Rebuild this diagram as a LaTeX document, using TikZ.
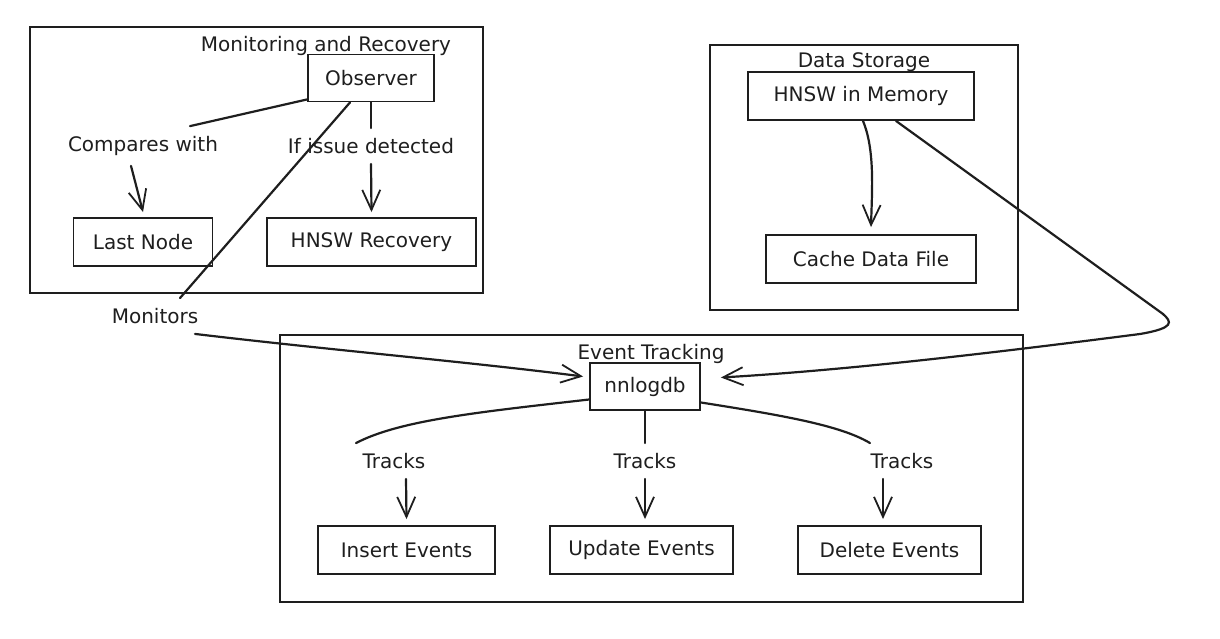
\documentclass[tikz,border=0pt]{standalone}
\usepackage{fontspec}
\setmainfont{DejaVu Sans}
\usetikzlibrary{arrows.meta,positioning,calc}
\definecolor{Ink}{HTML}{1E1E1E}
\tikzset{
  box/.style={draw=Ink,line width=1.9pt,minimum height=48pt,inner sep=0pt,
    font=\fontsize{20}{24}\selectfont,text=Ink},
  cluster/.style={draw=Ink,line width=1.9pt},
  ttl/.style={inner sep=1pt,font=\fontsize{20}{24}\selectfont,text=Ink},
  lbl/.style={inner sep=10pt,font=\fontsize{20}{24}\selectfont,text=Ink},
  link/.style={draw=Ink,line width=2.2pt,line cap=round},
}
\begin{document}
\begin{tikzpicture}[x=1pt,y=-1pt,>={Straight Barb[length=20pt,width=18pt,line width=1.8pt]}]
\useasboundingbox (0,0) rectangle (1220,639);
% clusters
\draw[cluster] (30,27) rectangle (483,293);
\draw[cluster] (710,45) rectangle (1018,310);
\draw[cluster] (280,335) rectangle (1023,602);
\node[ttl] (tmon) at (326,46) {Monitoring and Recovery};
\node[ttl] (tdat) at (864,62) {Data Storage};
\node[ttl] (tevt) at (651,354) {Event Tracking};
% boxes
\node[box,minimum width=126pt,minimum height=47pt] (obs) at (371,78) {Observer};
\node[box,minimum width=139pt] (last) at (143,242) {Last Node};
\node[box,minimum width=209pt] (rec) at (371.5,242) {HNSW Recovery};
\node[box,minimum width=226pt] (mem) at (861,96) {HNSW in Memory};
\node[box,minimum width=210pt] (cache) at (871,259) {Cache Data File};
\node[box,minimum width=110pt,minimum height=47pt] (nnl) at (645,386.5) {nnlogdb};
\node[box,minimum width=177pt] (ins) at (406.5,550) {Insert Events};
\node[box,minimum width=183pt] (upd) at (641.5,550) {Update Events};
\node[box,minimum width=183pt] (del) at (889.5,550) {Delete Events};
% edge labels
\node[lbl] (cmp) at (143,146) {Compares with};
\node[lbl] (iss) at (371,146) {If issue detected};
\node[lbl] (mon) at (155,316) {Monitors};
\node[lbl] (tr1) at (394,461) {Tracks};
\node[lbl] (tr2) at (645,461) {Tracks};
\node[lbl] (tr3) at (902,461) {Tracks};
% monitoring edges
\draw[link] ([yshift=3pt]obs.south west) -- ([xshift=47pt]cmp.north);
\draw[link,->] ([xshift=-12pt]cmp.south) -- ([yshift=5pt]last.north);
\draw[link] (obs.south) -- (iss.north);
\draw[link,->] (iss.south) -- ([yshift=5pt]rec.north);
\draw[link] ([xshift=-21pt]obs.south) -- ([xshift=25pt]mon.north);
\draw[link,->] ([xshift=40pt]mon.south) .. controls (330,350) and (470,362) .. ([shift={(-6pt,10pt)}]nnl.west);
% storage edges
\draw[link,->] ([xshift=2pt]mem.south) .. controls (875,150) and (872,190) .. ([yshift=7pt]cache.north);
\coordinate (bend) at (1172,322);
\draw[link,->] ([xshift=35pt]mem.south) -- (1163,314) .. controls (bend) and (1175,328) .. (1140,334)
  .. controls (1000,352) and (850,370) .. ([shift={(20pt,9pt)}]nnl.east);
% tracking edges
\draw[link] ([yshift=-13pt]nnl.west) .. controls (480,412) and (400,420) .. ([xshift=-38pt]tr1.north);
\draw[link,->] ([xshift=12pt]tr1.south) -- ([yshift=6pt]ins.north);
\draw[link] (nnl.south) -- (tr2.north);
\draw[link,->] (tr2.south) -- ([shift={(3.5pt,6pt)}]upd.north);
\draw[link] ([yshift=-16pt]nnl.east) .. controls (780,415) and (840,425) .. ([xshift=-32pt]tr3.north);
\draw[link,->] ([xshift=-19pt]tr3.south) -- ([shift={(-6.5pt,6pt)}]del.north);
\end{tikzpicture}
\end{document}
